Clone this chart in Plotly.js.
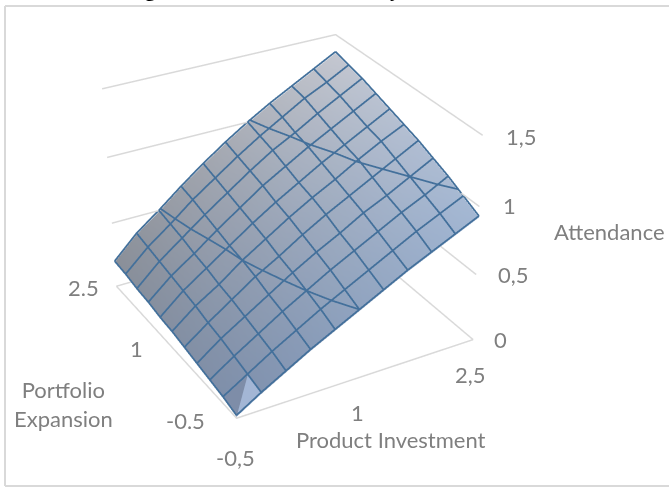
<!DOCTYPE html>
<html>
<head>
<meta charset="utf-8">
<script src="https://cdn.plot.ly/plotly-3.0.1.min.js"></script>
<style>
html,body{margin:0;padding:0;background:#fff;overflow:hidden}
#frame{position:relative;width:669px;height:487px;overflow:hidden}
#chart{position:absolute;left:-669px;top:-487px;width:2008px;height:1462px}
</style>
</head>
<body>
<div id="frame"><div id="chart"></div></div>
<script>
// Predictor grids and the attendance surface; rows follow expansion, columns investment
const investment = [-0.5,-0.2,0.1,0.4,0.7,1.0,1.3,1.6,1.9,2.2,2.5];
const expansion  = [-0.5,-0.2,0.1,0.4,0.7,1.0,1.3,1.6,1.9,2.2,2.5];
const attendance = [
 [0.01,0.12,0.22,0.32,0.41,0.50,0.59,0.68,0.76,0.84,0.92],
 [0.04,0.15,0.26,0.36,0.46,0.55,0.64,0.73,0.82,0.90,0.98],
 [0.06,0.18,0.29,0.40,0.50,0.60,0.69,0.78,0.87,0.95,1.04],
 [0.08,0.21,0.32,0.43,0.54,0.64,0.73,0.83,0.91,1.00,1.09],
 [0.10,0.23,0.35,0.47,0.57,0.68,0.78,0.87,0.96,1.05,1.14],
 [0.12,0.26,0.37,0.50,0.61,0.72,0.82,0.91,1.01,1.10,1.18],
 [0.13,0.28,0.40,0.52,0.64,0.75,0.85,0.95,1.04,1.13,1.22],
 [0.15,0.30,0.42,0.55,0.67,0.79,0.89,0.99,1.08,1.17,1.26],
 [0.16,0.32,0.45,0.58,0.70,0.82,0.93,1.02,1.12,1.21,1.30],
 [0.18,0.34,0.47,0.61,0.73,0.85,0.96,1.06,1.16,1.24,1.33],
 [0.19,0.36,0.49,0.63,0.76,0.88,0.99,1.09,1.18,1.27,1.36]
];
const attendanceTicks = [0,0.5,1,1.5];
const attendanceLabels = ['0','0,5','1','1,5'];
const contourLevels = [0.5,1];
const investmentTicks = [-0.5,1,2.5];
const investmentLabels = ['-0,5','1','2,5'];
const expansionTicks = [-0.5,1,2.5];
const expansionLabels = ['-0.5','1','2.5'];

const lo = -0.5, hi = 2.5, zMax = 1.5;
const wall = '#d9d9d9', mesh = '#43709b', ink = '#7f7f7f';
const lift = 0.012;   // keeps mesh lines just above the fill
const meshWidth = 3.5, wallWidth = 3;
const pad = 0.03;     // axis ranges reach past the box so its edges are not clipped

// The drawing surface is three times the window so the fixed field of view flattens the perspective
const pageW = 669, offX = 669, offY = 487, plotW = 2008, plotH = 1462;
const px = x => (x+offX)/plotW;
const py = y => 1-(y+offY)/plotH;

const cornerColor = {
  front:[125,143,172], right:[163,183,211], left:[138,143,152], back:[196,199,208]
};
const blend = (a,b,t) => a.map((v,k)=>v+(b[k]-v)*t);
const shade = (u,v) => {
  const c = blend(blend(cornerColor.front,cornerColor.right,u),
                  blend(cornerColor.left,cornerColor.back,u),v);
  return 'rgb('+c.map(Math.round).join(',')+')';
};

// Filled surface: one coloured vertex per grid node
const nx = investment.length, ny = expansion.length;
const vx=[], vy=[], vz=[], vc=[], fi=[], fj=[], fk=[];
const node = (i,j) => j*nx+i;
expansion.forEach((y,j)=>investment.forEach((x,i)=>{
  vx.push(x); vy.push(y); vz.push(attendance[j][i]);
  vc.push(shade(i/(nx-1),j/(ny-1)));
}));
for(let j=0;j<ny-1;j++) for(let i=0;i<nx-1;i++){
  if(i===0&&j===0) continue;
  fi.push(node(i,j),node(i,j)); fj.push(node(i+1,j),node(i+1,j+1)); fk.push(node(i+1,j+1),node(i,j+1));
}
// The cell at the front corner folds along its diagonal, so it gets two flat facets
function facet(ids,color){
  const s=vx.length;
  ids.forEach(n=>{vx.push(vx[n]);vy.push(vy[n]);vz.push(vz[n]);vc.push(color);});
  fi.push(s);fj.push(s+1);fk.push(s+2);
}
facet([node(0,0),node(1,0),node(1,1)],'rgb(163,182,213)');
facet([node(0,0),node(1,1),node(0,1)],'rgb(126,141,168)');

const traces=[{
  type:'mesh3d',x:vx,y:vy,z:vz,i:fi,j:fj,k:fk,vertexcolor:vc,hoverinfo:'skip',
  flatshading:false,lighting:{ambient:1,diffuse:0,specular:0,roughness:1,fresnel:0}
}];

function path(xs,ys,zs,color,width){
  return {type:'scatter3d',mode:'lines',x:xs,y:ys,z:zs,
          line:{color:color,width:width},hoverinfo:'skip',showlegend:false};
}
// Back-wall rules and the floor outline
attendanceTicks.forEach(t=>traces.push(path([lo,hi,hi],[hi,hi,lo],[t,t,t],wall,wallWidth)));
traces.push(path([lo,lo,hi],[hi,lo,lo],[0,0,0],wall,wallWidth));

// Mesh lines along both predictors
expansion.forEach((y,j)=>traces.push(path(investment,investment.map(()=>y),
  attendance[j].map(z=>z+lift),mesh,meshWidth)));
investment.forEach((x,i)=>traces.push(path(expansion.map(()=>x),expansion,
  attendance.map(r=>r[i]+lift),mesh,meshWidth)));

// Band boundaries: where each level crosses the rows, then the far edge
contourLevels.forEach(level=>{
  const xs=[],ys=[],zs=[];
  for(let j=0;j<ny;j++){
    const row=attendance[j];
    for(let i=0;i<nx-1;i++){
      if((row[i]-level)*(row[i+1]-level)<=0){
        xs.push(investment[i]+(investment[i+1]-investment[i])*(level-row[i])/(row[i+1]-row[i]));
        ys.push(expansion[j]);zs.push(level+lift);break;
      }
    }
  }
  for(let j=0;j<ny-1;j++){
    const a=attendance[j][nx-1],b=attendance[j+1][nx-1];
    if((a-level)*(b-level)<0){
      xs.unshift(hi);ys.unshift(expansion[j]+(expansion[j+1]-expansion[j])*(level-a)/(b-a));zs.unshift(level+lift);
    }
  }
  traces.push(path(xs,ys,zs,mesh,meshWidth));
});

const font={family:'Lato, sans-serif',size:22,color:ink};
const tag=(x,y,z,text,sx,sy)=>({x,y,z,text,showarrow:false,xshift:sx,yshift:sy,font});
const attendanceShift=[[27,0],[37,0],[30,1],[39,-1]];
const investmentShift=[[-1,-39],[-1,-35],[-3,-35]];
const expansionShift=[[-51,-2],[-37,0],[-33,-1]];
const annotations=[];
attendanceTicks.forEach((t,k)=>annotations.push(tag(hi,lo,t,attendanceLabels[k],...attendanceShift[k])));
investmentTicks.forEach((t,k)=>annotations.push(tag(t,lo,0,investmentLabels[k],...investmentShift[k])));
expansionTicks.forEach((t,k)=>annotations.push(tag(lo,t,0,expansionLabels[k],...expansionShift[k])));
annotations.push(tag(hi,lo,0.75,'Attendance',132,9));
annotations.push(tag(1.0,lo,0,'Product Investment',32,-62));
annotations.push(tag(lo,1.0,0,'Portfolio<br>Expansion',-110,-56));

// Only the descenders of the heading reach into the page
const headingBits=[['g',150],['y',395]].map(([text,x])=>({
  text:'<b>'+text+'</b>',x:px(x),y:py(3),xref:'paper',yref:'paper',xanchor:'center',yanchor:'bottom',showarrow:false,
  font:{family:'Liberation Serif, serif',size:21,color:'#000'}
}));

const edge=(x0,y0,x1,y1)=>({type:'line',xref:'paper',yref:'paper',x0:px(x0),x1:px(x1),y0:py(y0),y1:py(y1),line:{color:wall,width:2}});
const span = hi-lo;
const layout={
  width:plotW,height:plotH,margin:{l:0,r:0,t:0,b:0},paper_bgcolor:'#fff',showlegend:false,
  shapes:[edge(5,6,5,486),edge(5,6,pageW,6),edge(5,486,pageW,486)],
  annotations:headingBits,
  scene:{
    domain:{x:[0,1],y:[0,1]},
    xaxis:{visible:false,range:[lo-pad,hi+pad]},
    yaxis:{visible:false,range:[lo-pad,hi+pad]},
    zaxis:{visible:false,range:[-pad,zMax+pad]},
    aspectmode:'manual',
    aspectratio:{x:0.974*(span+2*pad)/span,y:1.0*(span+2*pad)/span,z:0.834*(zMax+2*pad)/zMax},
    camera:{eye:{x:-2.672,y:-4.922,z:3.123},up:{x:0,y:0,z:1},center:{x:0.173,y:-0.035,z:-0.154}},
    annotations
  }
};
Plotly.newPlot('chart',traces,layout,{displayModeBar:false});
</script>
</body>
</html>
